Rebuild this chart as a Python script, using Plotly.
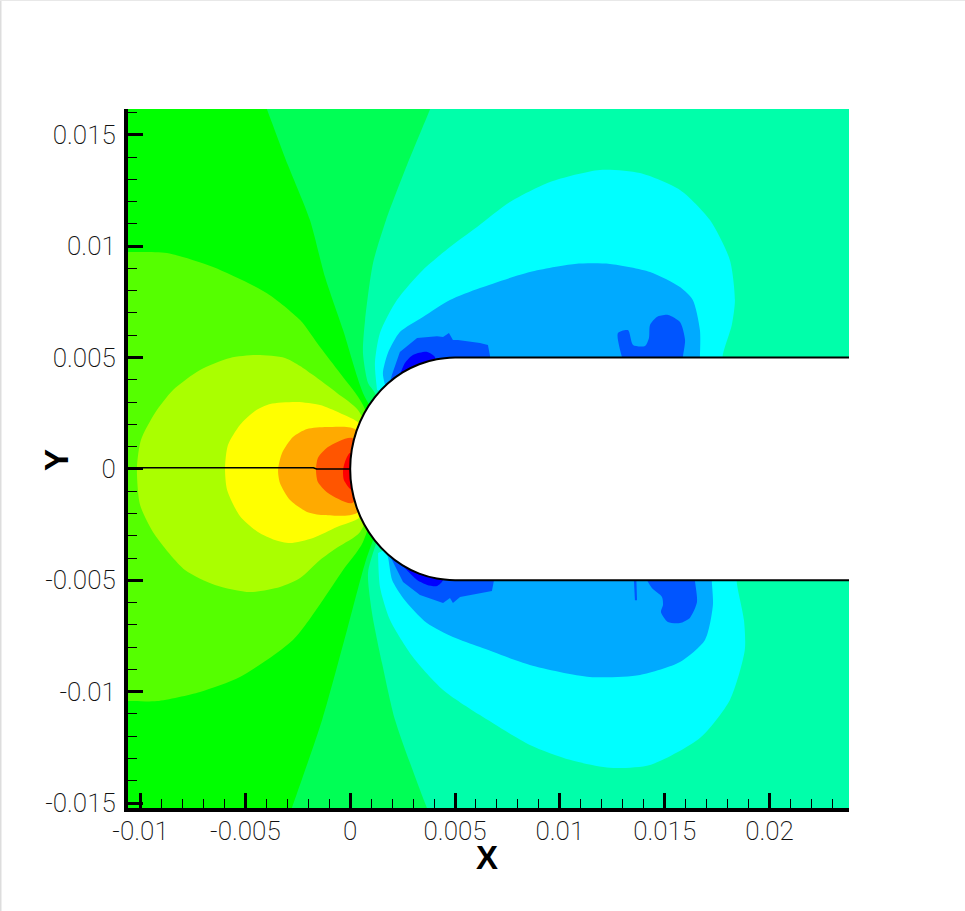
import plotly.graph_objects as go

# all contour boundaries are in thousandths of the axis unit
SCALE = 1e-3
x_range = [-10.597e-3, 23.79e-3]
y_range = [-15.222e-3, 16.156e-3]

x_tick_values = [-0.01, -0.005, 0, 0.005, 0.01, 0.015, 0.02]
x_tick_text = ["-0.01", "-0.005", "0", "0.005", "0.01", "0.015", "0.02"]
y_tick_values = [-0.015, -0.01, -0.005, 0, 0.005, 0.01, 0.015]
y_tick_text = ["-0.015", "-0.01", "-0.005", "0", "0.005", "0.01", "0.015"]

# band 00ff55
mint_x = [-4.8, -3.97, -2.97, -1.92, -1.20, -0.34, 0.61, 2.5, 1.04, 0.71, -0.15, -1.34, -2.78, -3.58, 26, 26, -4.8]
mint_y = [18.2, 16.15, 13.64, 11.17, 8.61, 6.23, 3.41, 0, -3.33, -4.22, -7.23, -11.27, -15.22, -17.4, -17.4, 18.2, 18.2]
# band 00ffaa
aqua_x = [4.7, 3.81, 2.71, 1.71, 1.09, 0.71, 0.61, 0.85, 1.18, 2.5, 1.18, 0.85, 1.04, 1.52, 2.14, 3.33, 3.66, 4.5, 26, 26, 4.7]
aqua_y = [18.2, 16.15, 13.64, 11.17, 9.24, 6.68, 5.20, 3.86, 3.41, 0, -3.51, -4.67, -6.47, -8.72, -11.27, -14.41, -15.22, -17.4, -17.4, 18.2, 18.2]
# band 00ffff
cyan_top_x = [1.28, 1.18, 1.42, 2.23, 3.47, 4.76, 6.05, 7.62, 9.53, 11.91, 13.82, 15.73, 17.16, 18.11, 18.35, 18.20, 17.77, 17.7, 3.0]
cyan_top_y = [3.54, 4.75, 6.10, 7.58, 8.93, 9.96, 10.86, 11.98, 12.88, 13.42, 13.28, 12.52, 11.17, 9.37, 7.58, 6.46, 5.11, 4.0, 3.0]
cyan_bot_x = [1.33, 1.42, 1.90, 2.99, 4.43, 6.19, 8.57, 10.48, 12.39, 14.30, 16.68, 18.11, 18.82, 18.78, 18.44, 18.4, 3.0]
cyan_bot_y = [-3.77, -5.30, -6.78, -8.44, -9.92, -11.05, -12.39, -13.06, -13.42, -13.29, -12.08, -10.37, -8.13, -6.78, -5.12, -4.0, -3.0]
# band 00aaff
sky_top_x = [1.66, 1.56, 1.80, 2.37, 3.47, 4.76, 6.19, 8.57, 10.72, 12.39, 14.30, 15.73, 16.34, 16.68, 16.68, 16.6, 3.0]
sky_top_y = [3.77, 4.30, 5.20, 6.14, 6.82, 7.58, 8.12, 8.84, 9.20, 9.20, 8.84, 8.16, 7.58, 6.23, 5.07, 4.0, 3.0]
sky_bot_x = [1.66, 1.80, 2.00, 2.52, 3.66, 4.90, 6.19, 8.57, 11.43, 13.82, 15.73, 16.92, 17.30, 17.25, 17.2, 3.0]
sky_bot_y = [-3.64, -3.96, -4.99, -5.79, -6.92, -7.55, -8.00, -8.80, -9.34, -9.25, -8.67, -7.68, -6.11, -5.08, -4.0, -3.0]
# band 0055ff
royal_top_x = [1.90, 1.99, 2.37, 3.19, 4.14, 4.43, 4.71, 4.90, 5.14, 6.19, 6.57, 6.67, 6.6, 3.0]
royal_top_y = [3.90, 4.21, 5.25, 5.88, 5.96, 5.92, 6.10, 5.79, 5.79, 5.65, 5.56, 5.07, 4.0, 3.0]
royal_blob_top_x = [12.96, 12.77, 13.25, 13.49, 14.06, 14.25, 14.30, 14.63, 15.16, 15.73, 15.97, 15.87, 15.8, 13.0]
royal_blob_top_y = [5.02, 6.10, 6.23, 5.56, 5.52, 5.88, 6.46, 6.82, 6.91, 6.59, 5.79, 5.02, 4.0, 4.0]
royal_bot_x = [1.90, 2.04, 2.52, 3.33, 4.43, 4.76, 4.90, 5.24, 6.19, 6.76, 6.86, 6.8, 3.0]
royal_bot_y = [-3.91, -4.18, -5.08, -5.66, -6.02, -5.79, -6.02, -5.75, -5.57, -5.48, -4.99, -4.0, -3.0]
royal_blob_bot_x = [14.15, 14.39, 14.87, 14.92, 14.82, 15.15, 15.73, 16.20, 16.54, 16.44, 16.4, 14.1]
royal_blob_bot_y = [-4.99, -5.35, -5.75, -6.11, -6.42, -6.87, -6.92, -6.69, -5.98, -4.99, -4.0, -4.0]
royal_spike_x = [13.53, 13.65, 13.68, 13.58]
royal_spike_y = [-4.95, -4.95, -5.90, -5.90]
# band 0000ff
blue_top_x = [2.42, 2.61, 2.99, 3.67, 4.04, 4.0, 3.0]
blue_top_y = [4.35, 4.75, 5.11, 5.25, 5.02, 4.0, 3.5]
blue_bot_x = [2.52, 3.19, 3.67, 4.14, 4.43, 4.3, 3.0]
blue_bot_y = [-4.36, -4.99, -5.21, -5.26, -4.99, -4.0, -3.5]
# band 55ff00
lime_x = [-12.5, -10.6, -8.74, -6.54, -3.97, -2.39, -1.44, -0.49, 0.61, 1.5, 0.61, -0.34, -1.30, -2.73, -5.26, -7.16, -9.21, -10.6, -12.5]
lime_y = [9.7, 9.74, 9.69, 9.06, 7.89, 6.68, 5.47, 4.30, 2.87, 0, -3.28, -4.54, -5.88, -7.68, -9.34, -10.01, -10.42, -10.42, -10.3]
# band aaff00
chartreuse_x = [-10.17, -9.98, -9.31, -8.45, -7.16, -5.73, -4.44, -3.11, -2.39, -1.77, -0.63, 0.37, 1.5, 0.47, -0.58, -1.44, -2.39, -3.35, -4.78, -6.45, -7.88, -9.31, -10.02, -10.17]
chartreuse_y = [0.04, 1.30, 2.51, 3.54, 4.44, 4.98, 5.11, 4.98, 4.62, 4.21, 3.41, 2.64, 0, -2.83, -3.51, -4.09, -4.90, -5.30, -5.53, -5.21, -4.54, -2.97, -1.62, 0.04]
# band ffff00
yellow_x = [-5.97, -5.83, -5.26, -4.54, -3.82, -2.54, -1.44, -0.49, 0.47, 1.5, 0.47, -0.63, -1.77, -2.87, -3.59, -4.40, -5.26, -5.87, -5.97]
yellow_y = [0.04, 1.07, 1.97, 2.60, 2.91, 3.00, 2.87, 2.51, 2.02, 0, -2.16, -2.61, -3.10, -3.33, -3.19, -2.83, -2.11, -0.95, 0.04]
# band ffaa00
orange_x = [-3.44, -3.25, -2.73, -2.06, -1.11, 0.23, 1.2, 0.32, -1.30, -2.06, -2.87, -3.35, -3.44]
orange_y = [-0.05, 0.71, 1.43, 1.79, 1.88, 1.79, 0, -1.98, -2.07, -1.93, -1.40, -0.63, -0.05]
# band ff5500
vermilion_x = [-1.63, -1.54, -1.06, 0.09, 1.0, 0.09, -1.06, -1.54, -1.63]
vermilion_y = [-0.05, 0.49, 0.98, 1.39, 0, -1.53, -1.08, -0.59, -0.05]
# band ff0000
red_x = [-0.34, -0.25, -0.01, 0.8, 0.09, -0.30, -0.34]
red_y = [-0.05, 0.31, 0.71, 0, -0.95, -0.50, -0.05]

# body outline
body_x = [26, 23.79, 15, 8, 6, 5.5, 5.0, 4.13, 3.29, 2.5, 1.79, 1.17, 0.67, 0.302, 0.076, 0.0, 0.076, 0.302, 0.67, 1.17, 1.79, 2.5, 3.29, 4.13, 5.0, 5.5, 6, 8, 15, 23.79, 26]
body_y = [5.0, 5.0, 5.0, 5.0, 5.0, 5.0, 5.0, 4.92, 4.70, 4.33, 3.83, 3.21, 2.5, 1.71, 0.868, 0.0, -0.868, -1.71, -2.5, -3.21, -3.83, -4.33, -4.70, -4.92, -5.0, -5.0, -5.0, -5.0, -5.0, -5.0, -5.0]
# centre line
centre_x = [-10.17, -1.76, -1.6, 0.0]
centre_y = [0.05, 0.05, 0.0, 0.0]

layers = [
    (mint_x, mint_y, "#00ff55", "spline"),
    (aqua_x, aqua_y, "#00ffaa", "spline"),
    (cyan_top_x, cyan_top_y, "#00ffff", "spline"),
    (cyan_bot_x, cyan_bot_y, "#00ffff", "spline"),
    (sky_top_x, sky_top_y, "#00aaff", "spline"),
    (sky_bot_x, sky_bot_y, "#00aaff", "spline"),
    (royal_top_x, royal_top_y, "#0055ff", "linear"),
    (royal_blob_top_x, royal_blob_top_y, "#0055ff", "spline"),
    (royal_bot_x, royal_bot_y, "#0055ff", "linear"),
    (royal_blob_bot_x, royal_blob_bot_y, "#0055ff", "spline"),
    (royal_spike_x, royal_spike_y, "#0055ff", "linear"),
    (blue_top_x, blue_top_y, "#0000ff", "spline"),
    (blue_bot_x, blue_bot_y, "#0000ff", "spline"),
    (lime_x, lime_y, "#55ff00", "spline"),
    (chartreuse_x, chartreuse_y, "#aaff00", "spline"),
    (yellow_x, yellow_y, "#ffff00", "spline"),
    (orange_x, orange_y, "#ffaa00", "spline"),
    (vermilion_x, vermilion_y, "#ff5500", "spline"),
    (red_x, red_y, "#ff0000", "spline"),
    (body_x, body_y, "#ffffff", "spline"),
]


def scaled(values):
    return [v * SCALE for v in values]


fig = go.Figure()
for xs, ys, colour, shape in layers:
    fig.add_trace(go.Scatter(
        x=scaled(xs), y=scaled(ys), mode="lines", fill="toself",
        fillcolor=colour, line=dict(width=0, color=colour, shape=shape, smoothing=0.7), hoverinfo="skip",
    ))
fig.add_trace(go.Scatter(x=scaled(body_x), y=scaled(body_y), mode="lines",
                         line=dict(color="black", width=2, shape="spline", smoothing=0.7), hoverinfo="skip"))
fig.add_trace(go.Scatter(x=scaled(centre_x), y=scaled(centre_y), mode="lines",
                         line=dict(color="black", width=1.5), hoverinfo="skip"))

tick_font = dict(family="Roboto, Liberation Sans, sans-serif", size=26, color="#111111", weight=200)
common = dict(
    showgrid=False, zeroline=False, showline=True, linecolor="black", linewidth=4,
    ticks="inside", ticklen=15, tickwidth=3, tickcolor="black", tickfont=tick_font,
    tickmode="array",
    minor=dict(tickmode="linear", tick0=0, dtick=0.001, ticks="inside", ticklen=9,
               tickwidth=1, tickcolor="black", showgrid=False),
)
fig.update_xaxes(range=x_range, tickvals=x_tick_values, ticktext=x_tick_text, ticklabelstandoff=-3, **common)
fig.update_yaxes(range=y_range, tickvals=y_tick_values, ticktext=y_tick_text, ticklabelstandoff=3, **common)

title_font = dict(family="Liberation Sans, sans-serif", size=33, color="black")
plot_w, plot_h = 721, 699
fig.update_layout(
    width=965, height=911,
    margin=dict(l=128, r=116, t=109, b=103),
    plot_bgcolor="#00ff00", paper_bgcolor="white", showlegend=False,
    annotations=[
        dict(text="<b>X</b>", xref="paper", yref="paper", x=(487 - 128) / plot_w, y=(808 - 857) / plot_h,
             xanchor="center", yanchor="middle", showarrow=False, font=title_font),
        dict(text="<b>Y</b>", xref="paper", yref="paper", x=(57 - 128) / plot_w, y=(808 - 460) / plot_h,
             xanchor="center", yanchor="middle", showarrow=False, font=title_font, textangle=-90),
    ],
    shapes=[
        dict(type="rect", xref="paper", yref="paper", x0=-128 / plot_w, x1=-126.5 / plot_w, y0=-103 / plot_h, y1=808 / plot_h,
             fillcolor="#dddddd", line=dict(width=0), layer="below"),
        dict(type="rect", xref="paper", yref="paper", x0=-128 / plot_w, x1=837 / plot_w, y0=807 / plot_h, y1=808 / plot_h,
             fillcolor="#e8e8e8", line=dict(width=0), layer="below"),
    ],
)
fig.write_html("out.html", config=dict(displayModeBar=False),
               post_script="document.body.style.margin='0';")
